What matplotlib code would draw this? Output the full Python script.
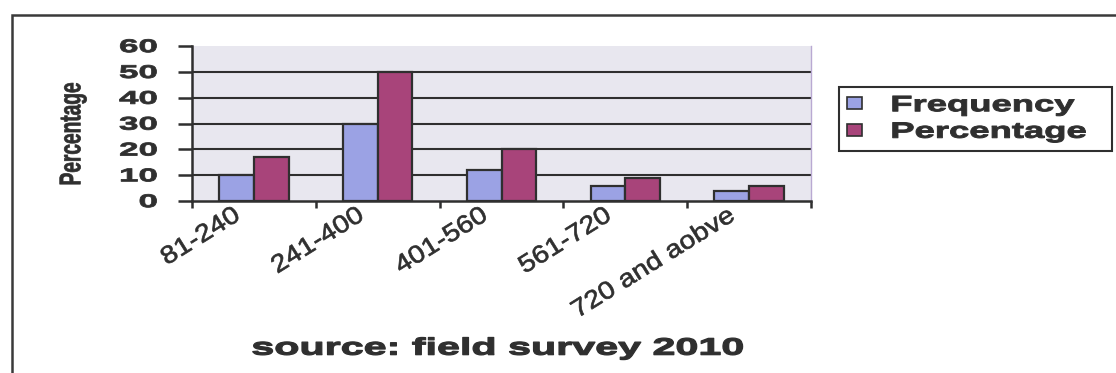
import numpy as np
import matplotlib
matplotlib.use('Agg')
import matplotlib.pyplot as plt
from matplotlib.patches import Patch, Rectangle
from matplotlib.patheffects import AbstractPathEffect
from matplotlib.path import Path
from matplotlib.transforms import Affine2D, ScaledTranslation

# Income groups and the two series per group
categories = ['81-240', '241-400', '401-560', '561-720', '720 and aobve']
frequency = [10, 30, 12, 6, 4]
percentage = [17, 50, 20, 9, 6]
y_ticks = [0, 10, 20, 30, 40, 50, 60]

plt.rcParams['font.family'] = ['Liberation Sans', 'DejaVu Sans']

INK = '#2f2f2f'
FREQ_COLOR = '#9ba2e4'
PCT_COLOR = '#a8447a'


class Stretch(AbstractPathEffect):
    """Scale the glyph outlines along (sx) and across (sy) the baseline,
    optionally thickening them with an outline of the same colour."""

    def __init__(self, sx=1.0, sy=1.0, anchor='center', stroke=0.0):
        super().__init__()
        self.sx, self.sy, self.anchor, self.stroke = sx, sy, anchor, stroke

    def draw_path(self, renderer, gc, tpath, affine, rgbFace=None):
        v = tpath.vertices
        if tpath.codes is not None:
            v = v[tpath.codes != Path.CLOSEPOLY]
        if len(v):
            x0, y0 = v.min(axis=0)
            x1, y1 = v.max(axis=0)
        else:
            x0 = y0 = x1 = y1 = 0.0
        px = {'left': x0, 'center': (x0 + x1) / 2, 'right': x1}[self.anchor]
        py = (y0 + y1) / 2
        t = Affine2D().translate(-px, -py).scale(self.sx, self.sy).translate(px, py)
        if self.stroke and rgbFace is not None:
            gc0 = renderer.new_gc()
            gc0.copy_properties(gc)
            gc0.set_linewidth(self.stroke)
            gc0.set_foreground(rgbFace)
            gc0.set_joinstyle('round')
            renderer.draw_path(gc0, tpath, t + affine, rgbFace)
            gc0.restore()
        else:
            renderer.draw_path(gc, tpath, t + affine, rgbFace)


W, H = 1116, 373
fig = plt.figure(figsize=(W / 100, H / 100), dpi=100)
ax = fig.add_axes([192 / W, 1 - 201 / H, (811 - 192) / W, (201 - 46) / H])
ax.set_facecolor('#e8e7ef')

x = np.arange(len(categories))
w = 0.28
ax.bar(x - w / 2, frequency, w, color=FREQ_COLOR, edgecolor=INK,
       linewidth=1.6, zorder=3)
ax.bar(x + w / 2, percentage, w, color=PCT_COLOR, edgecolor=INK,
       linewidth=1.6, zorder=3)

ax.set_xlim(-0.5, len(categories) - 0.5)
ax.set_ylim(0, 60)
ax.set_yticks(y_ticks)
ax.set_axisbelow(True)
ax.grid(axis='y', color=INK, linewidth=1.5)
ax.get_ygridlines()[-1].set_visible(False)
ax.get_ygridlines()[0].set_visible(False)

ax.spines['top'].set_visible(False)
ax.spines['right'].set_color('#b9a9d2')
ax.spines['right'].set_linewidth(1.0)
for side in ('left', 'bottom'):
    ax.spines[side].set_color(INK)
    ax.spines[side].set_linewidth(1.8)

# y axis ticks and labels
ax.tick_params(axis='y', length=10, width=1.8, color=INK, pad=15,
               labelsize=14, labelcolor=INK)
for lbl in ax.get_yticklabels():
    lbl.set_fontweight('bold')
    lbl.set_path_effects([Stretch(1.8, 0.95, 'right', stroke=0.6)])

# x axis: labels at category centres, tick marks between categories
ax.set_xticks(x)
ax.set_xticks(np.arange(-0.5, len(categories), 1), minor=True)
ax.tick_params(axis='x', which='major', length=0, pad=9)
ax.tick_params(axis='x', which='minor', length=5, width=1.8, color=INK,
               direction='out')
ax.set_xticklabels(categories, rotation=32, ha='right', va='center',
                   rotation_mode='anchor', fontsize=17, color=INK)
shift = ScaledTranslation(-16 / 100, 0, fig.dpi_scale_trans)
for lbl in ax.get_xticklabels():
    lbl.set_transform(lbl.get_transform() + shift)
    lbl.set_path_effects([Stretch(1.2, 1.05, 'right', stroke=0.5)])

ax.set_ylabel('Percentage', fontsize=16, fontweight='bold', color=INK,
              va='center')
ax.yaxis.set_label_coords((73 - 192) / 619, (201 - 134) / 155)
ax.yaxis.label.set_path_effects([Stretch(0.86, 1.35, 'center', stroke=0.5)])

ax.set_xlabel('source: field survey 2010', fontsize=18, fontweight='bold',
              color=INK, va='center')
ax.xaxis.set_label_coords((498 - 192) / 619, (201 - 348) / 155)
ax.xaxis.label.set_path_effects([Stretch(1.65, 0.95, 'center', stroke=0.9)])

# legend box on the right
handles = [Patch(facecolor=FREQ_COLOR, edgecolor=INK, linewidth=1.2),
           Patch(facecolor=PCT_COLOR, edgecolor=INK, linewidth=1.2)]
leg = fig.legend(handles, ['Frequency', 'Percentage'], loc='center left',
                 bbox_to_anchor=(839 / W, 1 - 150 / H, (1112 - 839) / W, 62 / H),
                 mode='expand', prop=dict(size=16, weight='bold'),
                 fancybox=False, edgecolor=INK, framealpha=1,
                 handlelength=0.7, handleheight=0.45, handletextpad=1.3,
                 labelspacing=0.25, borderpad=0.35, borderaxespad=0)
leg.get_frame().set_linewidth(1.5)
for t in leg.get_texts():
    t.set_color(INK)
    t.set_path_effects([Stretch(1.64, 1.0, 'left', stroke=0.7)])

# outer frame around the whole chart
fig.add_artist(Rectangle((11.5 / W, -0.2), 1.2, 1.2 - 15 / H,
                         transform=fig.transFigure, fill=False,
                         edgecolor='#3a3a3a', linewidth=1.8, clip_on=False))

fig.savefig('out.png', dpi=100)
